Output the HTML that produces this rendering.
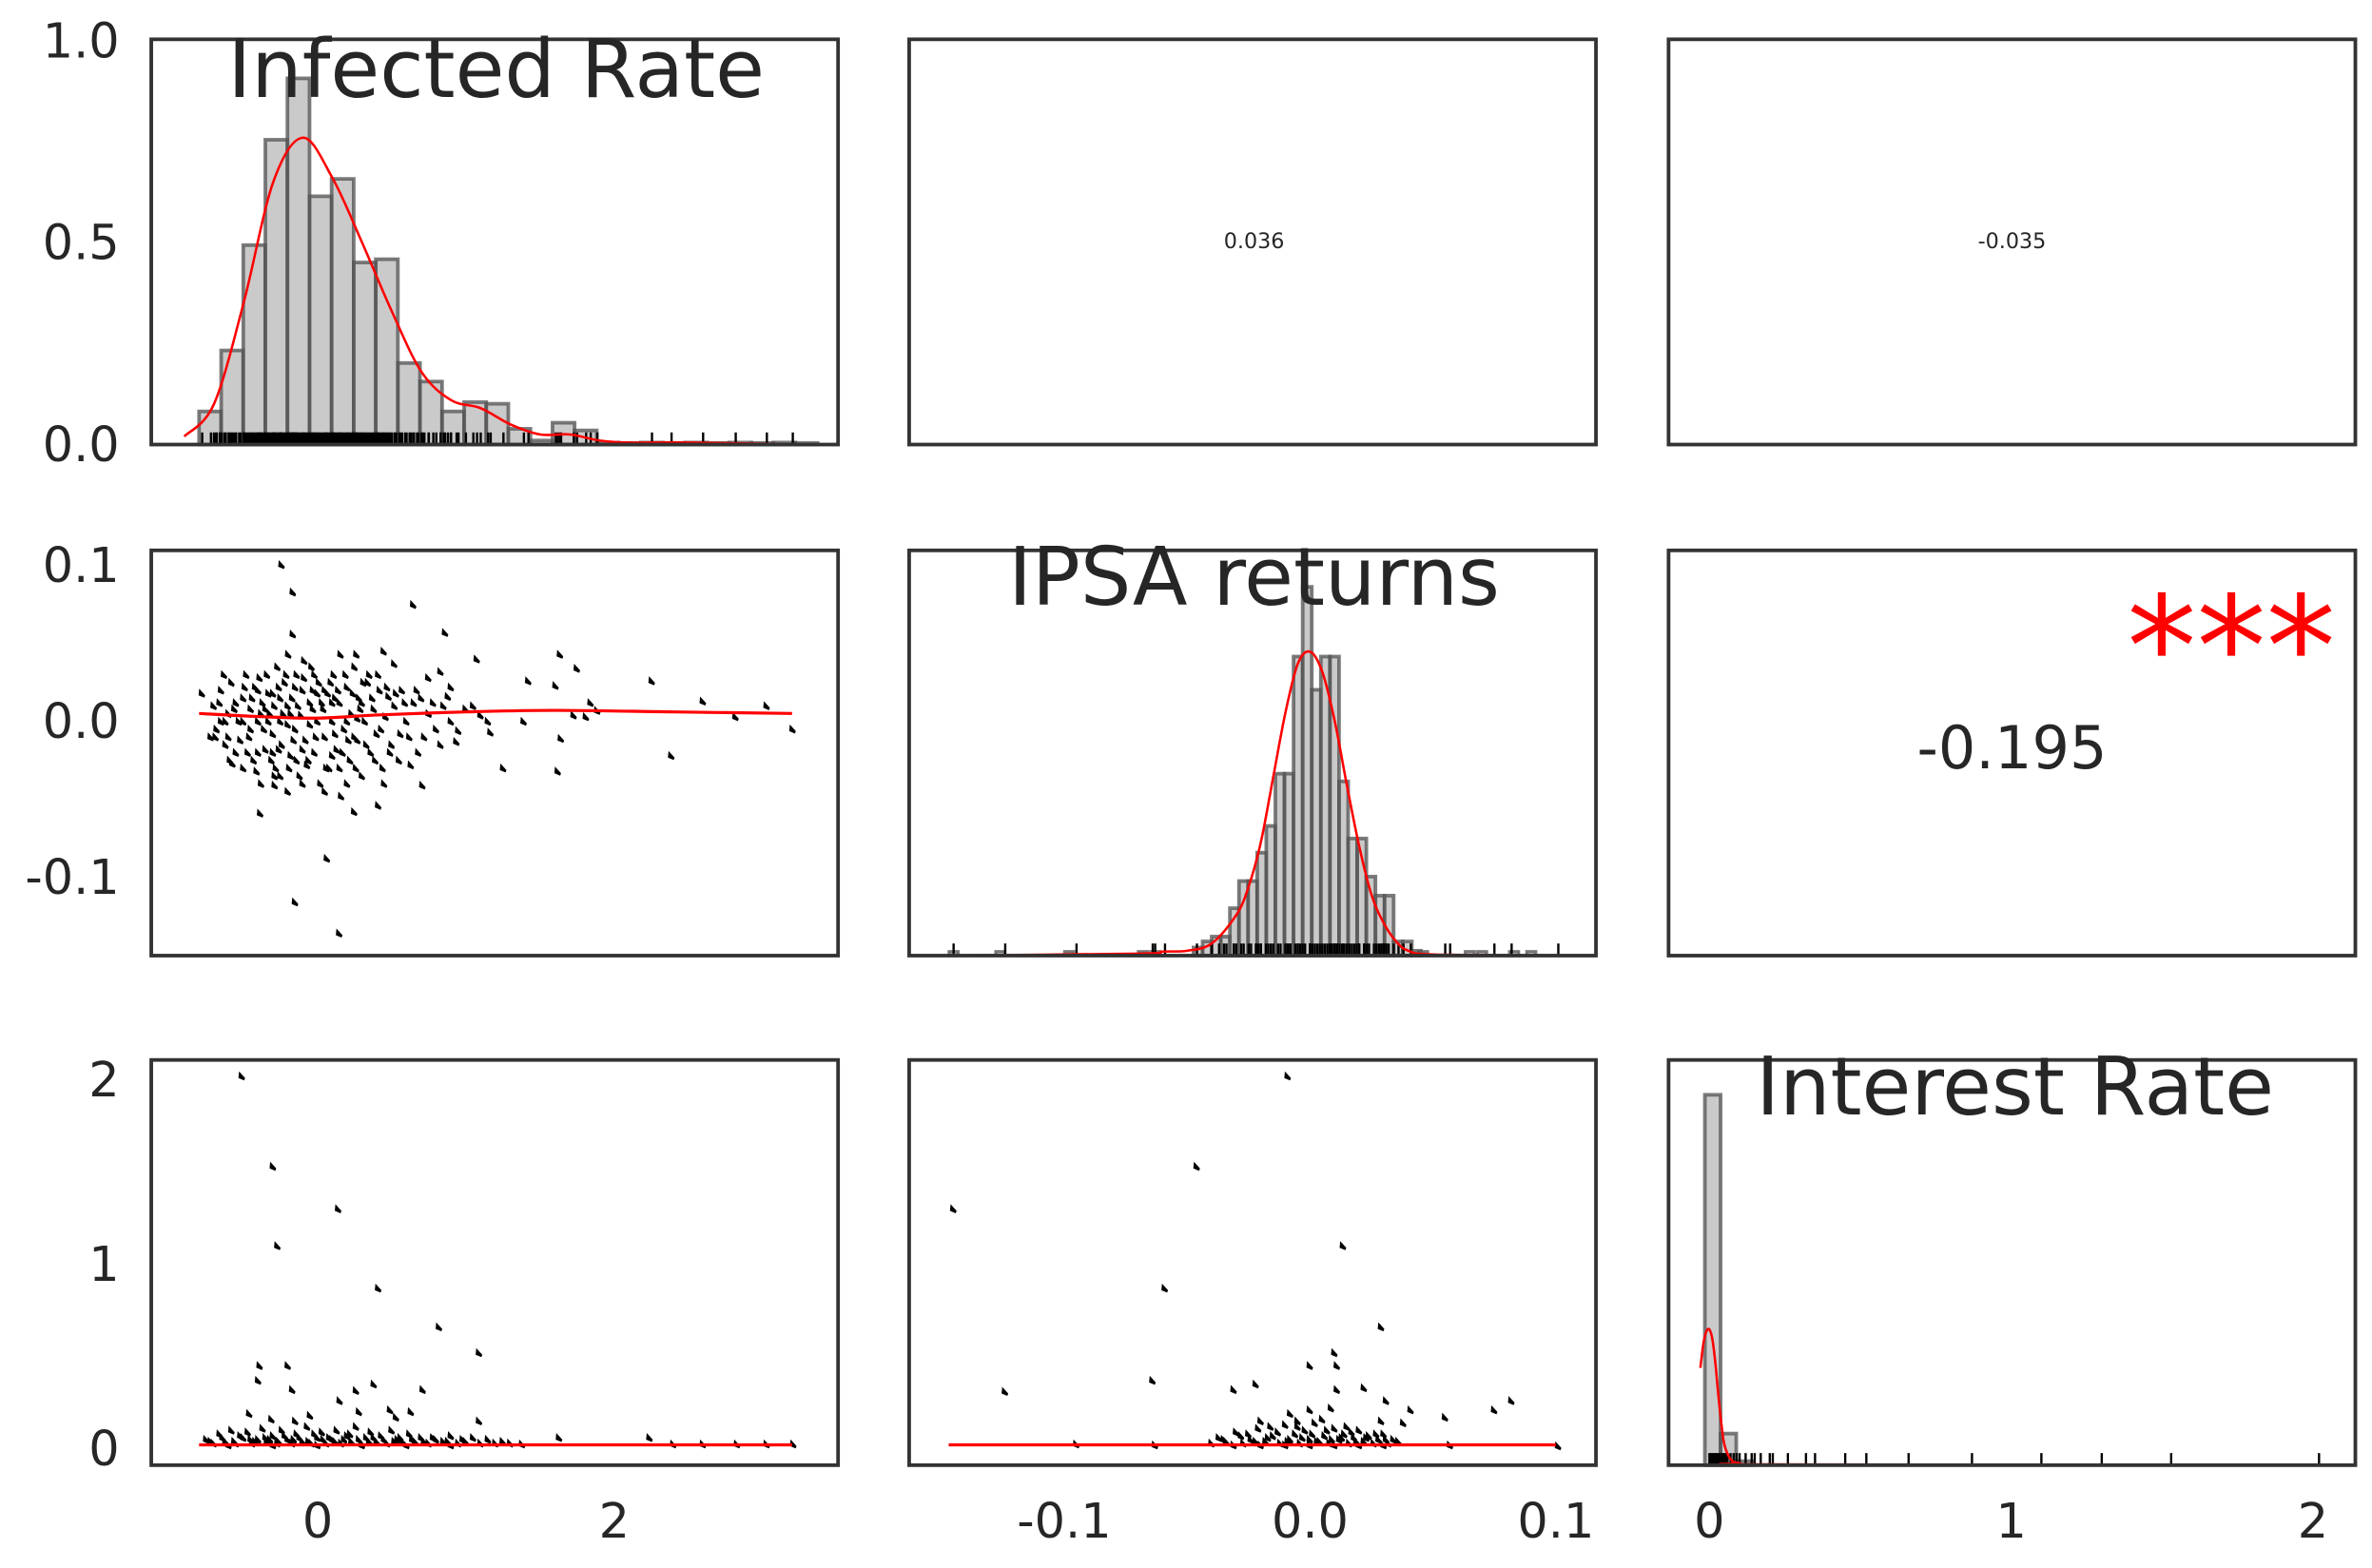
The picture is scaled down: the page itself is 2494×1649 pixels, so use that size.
<!DOCTYPE html>
<html><head><meta charset="utf-8">
<style>
html,body{margin:0;padding:0;background:#fff;}
svg{display:block;}
text{font-family:"DejaVu Sans","Liberation Sans",sans-serif;fill:#262626;}
</style></head>
<body>
<svg id="chart" width="2494" height="1649" viewBox="0 0 1568 1037" preserveAspectRatio="none" xmlns="http://www.w3.org/2000/svg">
<g id="layer"></g>
</svg>
<script>
// ---------- DATA ----------
const infHistStart = -0.80, infHistWidth = 0.149;
const infHist = [0.082,0.233,0.494,0.755,0.907,0.615,0.658,0.451,0.459,0.202,0.156,0.082,0.105,0.101,0.039,0.01,0.054,0.035,0.005,0.004,0.005,0.004,0.005,0.004,0.005,0.004,0.005,0.004];
const infKdeX = [-0.9,-0.7,-0.5,-0.3,-0.1,0.1,0.3,0.5,0.7,0.9,1.1,1.3,1.5,1.7,1.9,2.1,2.5,3.3];
const infKdeY = [0.02,0.1,0.35,0.65,0.76,0.66,0.5,0.33,0.18,0.11,0.09,0.05,0.025,0.025,0.01,0.005,0.005,0.0];

const ipsaHistStart = -0.0474, ipsaHistWidth = 0.0037;
const ipsaHist = [0.02,0.035,0.047,0.047,0.117,0.184,0.184,0.254,0.32,0.449,0.449,0.738,0.91,0.656,0.738,0.738,0.43,0.289,0.289,0.195,0.148,0.148,0.035,0.035,0.012];
const ipsaOutBars = [-0.145,-0.126,-0.098,-0.068,-0.063,0.046,0.065,0.07,0.083,0.09];
const ipsaKdeX = [-0.15,-0.07,-0.06,-0.05,-0.04,-0.03,-0.025,-0.02,-0.015,-0.01,-0.005,0,0.005,0.01,0.015,0.02,0.025,0.03,0.035,0.04,0.05,0.1];
const ipsaKdeY = [0,0.005,0.01,0.012,0.03,0.1,0.17,0.28,0.44,0.6,0.72,0.75,0.7,0.58,0.42,0.27,0.15,0.08,0.035,0.012,0.003,0];

const intHistStart = -0.015, intHistWidth = 0.052;
const intHist = [0.914,0.078,0.01];
const intKdeX = [-0.03,-0.02,-0.01,0.0,0.01,0.02,0.03,0.04,0.05,0.07,0.1,0.2,2.0];
const intKdeY = [0.24,0.3,0.33,0.335,0.31,0.25,0.17,0.1,0.05,0.015,0.005,0.002,0.0];

const scatInfX = [-0.242,-0.166,0.646,-0.166,0.861,1.075,1.636,1.75,1.422,1.606,2.255,2.60,3.03,2.82,3.205,2.387,1.642,1.621,1.253,0.708,-0.288,-0.288,-0.386,0.248,0.410,0.064,-0.151,0.147,-0.573,-0.687,-0.779,1.391,1.842,1.887,1.728,1.811,1.167,0.937,-0.197,-0.089,0.156,0.263,0.447,0.518,0.830,0.900,0.748,
-0.7,-0.68,-0.65,-0.62,-0.6,-0.58,-0.55,-0.53,-0.5,-0.5,-0.48,-0.46,-0.45,-0.43,-0.42,-0.4,-0.38,-0.37,-0.35,-0.34,-0.32,-0.3,-0.3,-0.28,-0.27,-0.25,-0.24,-0.22,-0.2,-0.2,-0.18,-0.17,-0.15,-0.14,-0.12,-0.11,-0.1,-0.08,-0.07,-0.05,-0.04,-0.02,0.0,0.01,0.02,0.04,0.05,0.07,0.08,0.1,0.11,0.13,0.15,0.16,0.18,0.2,0.22,0.23,0.25,0.27,0.28,0.3,0.32,0.34,0.36,0.38,0.4,0.42,0.44,0.46,0.48,0.5,0.52,0.55,0.57,0.6,0.62,0.65,0.68,0.7,0.75,0.8,0.85,0.9,0.95,1.0,1.05,1.1,1.15,
-0.45,-0.4,-0.35,-0.3,-0.25,-0.2,-0.15,-0.1,-0.05,0.0,0.05,0.1,0.15,0.2,0.25,0.3,-0.55,-0.6,-0.65,-0.4,-0.25,-0.1,0.05,0.2,0.35,0.45,-0.33,-0.18,-0.03,0.12,0.27,
-0.72,-0.66,-0.63,-0.59,-0.56,-0.52,-0.49,-0.47,-0.44,-0.41,-0.39,-0.36,-0.33,-0.31,-0.29,-0.26,-0.23,-0.21,-0.19,-0.16,-0.13,-0.09,-0.06,-0.03,-0.01,0.03,0.06,0.09,0.12,0.14,0.17,0.19,0.21,0.24,0.26,0.29,0.31,0.33,0.37,0.39,0.41,0.43,0.47,0.49,0.53,0.56,0.59,0.63,0.67,0.72,0.78,0.83,0.88,-0.62,-0.5,-0.38,-0.26,-0.14,-0.02,0.1];
const scatIpsaY = [0.1006,0.083,0.075,0.056,0.057,0.040,0.043,0.034,0.026,0.023,0.026,0.013,0.010,0.003,-0.005,-0.022,-0.011,-0.032,-0.030,-0.041,-0.035,-0.041,-0.059,-0.058,-0.054,-0.088,-0.116,-0.136,-0.027,-0.010,0.018,0.0,0.012,0.007,0.004,0.003,-0.007,-0.013,0.043,0.039,0.043,0.043,0.045,0.037,0.032,0.022,0.028,
0.01,-0.005,0.02,-0.015,0.005,0.025,-0.02,0.0,0.015,-0.03,0.03,-0.01,0.008,-0.025,0.022,0.0,-0.04,0.012,-0.018,0.03,0.005,-0.008,0.018,-0.03,0.035,0.0,-0.015,0.025,-0.045,0.01,-0.022,0.015,-0.005,0.03,-0.035,0.004,0.02,-0.012,-0.028,0.012,0.035,-0.02,0.0,0.025,-0.04,0.008,-0.01,0.018,-0.03,0.0,0.03,-0.018,0.012,-0.048,-0.005,0.022,-0.025,0.005,0.035,-0.012,0.015,-0.035,0.0,0.025,-0.02,0.008,-0.008,0.02,-0.03,0.003,0.016,-0.015,0.01,-0.025,0.02,0.0,-0.01,0.012,-0.02,0.015,0.005,-0.005,0.01,0.0,-0.006,0.008,0.01,0.004,0.0,
-0.005,0.02,0.008,-0.02,0.015,-0.002,0.022,-0.018,-0.002,0.018,0.02,-0.022,-0.03,0.0,-0.01,0.012,0.012,-0.01,0.0,-0.02,-0.035,-0.04,-0.045,-0.04,0.03,-0.04,0.0,0.005,0.008,0.015,0.002,
-0.01,0.012,0.03,-0.025,0.008,-0.012,0.022,-0.02,0.015,-0.032,0.028,-0.005,0.018,-0.025,0.01,-0.018,0.005,0.03,-0.03,-0.012,0.01,0.028,-0.025,0.02,-0.01,0.012,-0.03,0.025,-0.008,0.02,-0.02,0.03,-0.012,0.018,-0.03,0.008,0.025,-0.015,0.015,-0.025,0.03,-0.005,0.022,-0.02,0.018,-0.008,0.012,-0.028,0.02,-0.01,0.012,-0.015,0.016,0.0,0.0,0.005,0.022,-0.025,0.03,0.012];
const lowessIX = [-0.8,-0.4,0,0.4,1.0,1.6,2.4,3.2];
const lowessIY = [0.005,0.003,0.002,0.004,0.006,0.007,0.006,0.005];

const scatInf2X = [-0.51,-0.30,0.14,-0.27,0.41,0.82,1.09,-0.39,-0.20,-0.40,-0.17,0.38,0.26,0.71,0.15,-0.46,-0.31,-0.15,-0.05,0.49,0.63,1.09,0.53,0.28,1.38,1.63,2.24,2.40,2.60,2.83,3.03,3.21,
-0.75,-0.7,-0.66,-0.62,-0.58,-0.55,-0.5,-0.47,-0.44,-0.4,-0.37,-0.34,-0.3,-0.27,-0.24,-0.2,-0.17,-0.14,-0.1,-0.07,-0.04,0.0,0.03,0.06,0.1,0.13,0.16,0.2,0.23,0.26,0.3,0.33,0.36,0.4,0.43,0.47,0.5,0.54,0.58,0.62,0.66,0.7,0.75,0.8,0.85,0.9,0.95,1.0,1.05,1.1,1.15,1.2,1.25,1.3,-0.6,-0.3,0.0,0.3,0.6,0.9,
-0.72,-0.64,-0.56,-0.52,-0.45,-0.42,-0.35,-0.32,-0.26,-0.22,-0.16,-0.12,-0.06,-0.02,0.04,0.08,0.12,0.18,0.22,0.28,0.35,0.38,0.45,0.52,0.56,0.64,0.72,0.78,0.88,0.98];
const scatIntY = [2.02,1.53,1.30,1.10,0.87,0.66,0.52,0.45,0.45,0.37,0.32,0.35,0.315,0.32,0.26,0.19,0.16,0.15,0.18,0.21,0.20,0.15,0.17,0.2,0.025,0.06,0.06,0.025,0.025,0.025,0.025,0.025,
0.05,0.03,0.08,0.04,0.1,0.03,0.06,0.09,0.03,0.05,0.11,0.04,0.07,0.03,0.1,0.05,0.03,0.08,0.04,0.12,0.03,0.06,0.09,0.03,0.05,0.1,0.03,0.07,0.04,0.12,0.03,0.06,0.09,0.04,0.07,0.03,0.1,0.05,0.03,0.08,0.04,0.06,0.03,0.05,0.04,0.07,0.03,0.04,0.06,0.03,0.05,0.03,0.04,0.03,0.02,0.02,0.02,0.02,0.02,0.02,
0.04,0.06,0.04,0.07,0.05,0.04,0.06,0.05,0.04,0.07,0.05,0.06,0.04,0.08,0.05,0.06,0.04,0.05,0.08,0.05,0.04,0.06,0.05,0.04,0.06,0.05,0.04,0.06,0.04,0.05];
const regIntX = [-0.8,3.2];
const regIntY = [0.02,0.02];

const scatIpsa2X = [-0.009,-0.046,-0.145,0.0135,-0.059,0.029,0.010,0.0,0.011,-0.064,-0.124,-0.031,-0.022,0.011,0.022,0.031,0.082,0.075,0.041,0.055,0.0,0.0086,-0.008,-0.02,0.029,0.038,-0.095,-0.063,0.057,0.101,
-0.04,-0.037,-0.034,-0.03,-0.027,-0.024,-0.021,-0.018,-0.015,-0.012,-0.01,-0.008,-0.006,-0.004,-0.002,0.0,0.002,0.004,0.006,0.008,0.01,0.012,0.014,0.016,0.018,0.02,0.022,0.024,0.026,0.028,0.03,0.032,0.034,0.036,-0.031,-0.02,-0.01,0.0,0.01,0.02,0.03,-0.016,0.005,-0.005,
-0.035,-0.028,-0.022,-0.017,-0.013,-0.009,-0.003,0.001,0.003,0.007,0.009,0.013,0.017,0.019,0.023,0.027,0.031,-0.025,-0.005,0.015];
const scatInt2Y = [2.02,1.53,1.30,1.10,0.87,0.66,0.52,0.45,0.45,0.37,0.31,0.32,0.35,0.32,0.33,0.26,0.26,0.21,0.21,0.17,0.21,0.22,0.19,0.15,0.15,0.14,0.025,0.02,0.02,0.015,
0.03,0.06,0.04,0.09,0.03,0.05,0.11,0.04,0.07,0.03,0.13,0.05,0.08,0.03,0.1,0.05,0.14,0.04,0.07,0.03,0.11,0.05,0.08,0.03,0.06,0.1,0.04,0.07,0.03,0.05,0.08,0.03,0.05,0.04,0.02,0.02,0.02,0.02,0.02,0.02,0.02,0.12,0.16,0.15,
0.05,0.07,0.04,0.06,0.09,0.04,0.06,0.08,0.04,0.1,0.05,0.06,0.09,0.04,0.06,0.08,0.05,0.08,0.12,0.12];
const regIpsaX = [-0.147,0.1];
const regIpsaY = [0.02,0.02];

const intRug = [0.0,0.005,0.01,0.015,0.02,0.025,0.03,0.035,0.04,0.045,0.05,0.055,0.06,0.07,0.08,0.09,0.1,0.12,0.14,0.15,0.17,0.2,0.21,0.26,0.32,0.35,0.45,0.52,0.66,0.87,1.10,1.30,1.53,2.02];

const corrLabels = ["0.036","-0.035","-0.195"];
const titles = ["Infected Rate","IPSA returns","Interest Rate"];
const infTicks = [0,2], ipsaTicks = [-0.1,0.0,0.1], intTicks = [0,1,2];
const infTickLabels = ["0","2"], ipsaTickLabels = ["-0.1","0.0","0.1"], intTickLabels = ["0","1","2"];
const row1Ticks = [0,0.5,1.0], row1Labels = ["0.0","0.5","1.0"];
const row2Ticks = [-0.1,0.0,0.1], row2Labels = ["-0.1","0.0","0.1"];
const row3Ticks = [0,1,2], row3Labels = ["0","1","2"];

// ---------- AXES ----------
const colL = [100,601,1103], colR = [554,1055,1557];
const rowT = [26,364,701], rowB = [294,632,969];
const xInf = v => 210 + v*98;
const xIpsa = v => 866 + v*1625;
const xInt = v => 1130 + v*199.5;
const yR1 = v => 294 - v*267;
const yR2 = v => 477 - v*1030;
const yR3 = v => 958 - v*122;
const yD2 = v => 632 - v*268;
const yD3 = v => 969 - v*268;

const NS = "http://www.w3.org/2000/svg";
const layer = document.getElementById('layer');
function mk(tag, attrs, parent){
  const e = document.createElementNS(NS, tag);
  for (const k in attrs) e.setAttribute(k, attrs[k]);
  (parent||layer).appendChild(e);
  return e;
}
function txt(s, x, y, size, anchor, fill, parent){
  const t = mk('text', {x:x, y:y, 'font-size':size, 'text-anchor':anchor||'middle'}, parent);
  if (fill) t.setAttribute('style','fill:'+fill);
  t.textContent = s;
  return t;
}

function histo(g, start, w, vals, xf, yf, bottom, name){
  vals.forEach((v,i)=>{
    const x0 = xf(start+i*w), x1 = xf(start+(i+1)*w);
    const r = mk('rect',{x:x0,y:yf(v),width:Math.max(x1-x0,0.5),height:bottom-yf(v),fill:'rgba(150,150,150,0.5)',stroke:'rgba(80,80,80,0.75)','stroke-width':2.4}, g);
    
    
  });
}
function line(g, xs, ys, xf, yf, name, sw){
  const P = xs.map((x,i)=>[xf(x), yf(ys[i])]);
  let d = 'M'+P[0][0].toFixed(2)+' '+P[0][1].toFixed(2);
  for (let i=0;i<P.length-1;i++){
    const p0 = P[Math.max(i-1,0)], p1 = P[i], p2 = P[i+1], p3 = P[Math.min(i+2,P.length-1)];
    const c1 = [p1[0]+(p2[0]-p0[0])/6, p1[1]+(p2[1]-p0[1])/6];
    const c2 = [p2[0]-(p3[0]-p1[0])/6, p2[1]-(p3[1]-p1[1])/6];
    d += ` C${c1[0].toFixed(2)} ${c1[1].toFixed(2)} ${c2[0].toFixed(2)} ${c2[1].toFixed(2)} ${p2[0].toFixed(2)} ${p2[1].toFixed(2)}`;
  }
  const p = mk('path',{d:d,fill:'none',stroke:'#ff0000','stroke-width':sw||1.6}, g);
  
  
}
function rug(g, vals, xf, bottom, name){
  vals.forEach((v,i)=>{
    const l = mk('line',{x1:xf(v),x2:xf(v),y1:bottom-8,y2:bottom,stroke:'#000','stroke-width':1.5}, g);
    
    
  });
}
function scatter(g, xs, ys, xf, yf, name){
  xs.forEach((x,i)=>{
    const cx = xf(x), cy = yf(ys[i]);
    const e = mk('path',{d:`M${(cx-2).toFixed(2)} ${(cy-3).toFixed(2)} l4 4.4 l-0.6 1.6 l-3.8 -1.6 z`,fill:'#000'}, g);
    
    
  });
}
function frame(r,c){
  const f = mk('rect',{x:colL[c],y:rowT[r],width:colR[c]-colL[c],height:rowB[r]-rowT[r],fill:'none',stroke:'#333','stroke-width':2.4});
  
  
}

const panels = [];
for (let r=0;r<3;r++) for (let c=0;c<3;c++){
  const g = mk('g',{});
  
  
  panels.push(g);
}
let g = panels[0];
histo(g, infHistStart, infHistWidth, infHist, xInf, yR1, 294, 'infected-hist');
rug(g, scatInfX, xInf, 294, 'infected-rug');
line(g, infKdeX, infKdeY, xInf, yR1, 'infected-kde');
txt(corrLabels[0], 829, 164, 14, 'middle', null, panels[1]);
txt(corrLabels[1], 1330, 164, 14, 'middle', null, panels[2]);
g = panels[3];
scatter(g, scatInfX, scatIpsaY, xInf, yR2, 'infected-vs-ipsa');
line(g, lowessIX, lowessIY, xInf, yR2, 'infected-ipsa-fit', 2);
g = panels[4];
histo(g, ipsaHistStart, ipsaHistWidth, ipsaHist, xIpsa, yD2, 632, 'ipsa-hist');
ipsaOutBars.forEach((v,i)=>{
  const r = mk('rect',{x:xIpsa(v)-3,y:yD2(0.01),width:6,height:632-yD2(0.01),fill:'rgba(150,150,150,0.5)',stroke:'rgba(80,80,80,0.75)','stroke-width':2}, g);
  
  
});
rug(g, scatIpsa2X, xIpsa, 632, 'ipsa-rug');
line(g, ipsaKdeX, ipsaKdeY, xIpsa, yD2, 'ipsa-kde');
txt(corrLabels[2], 1330, 508, 39, 'middle', null, panels[5]);
txt('***', 1475, 460, 92, 'middle', '#ff0000', panels[5]);
g = panels[6];
scatter(g, scatInf2X, scatIntY, xInf, yR3, 'infected-vs-interest');
line(g, regIntX, regIntY, xInf, yR3, 'infected-interest-fit', 2);
g = panels[7];
scatter(g, scatIpsa2X, scatInt2Y, xIpsa, yR3, 'ipsa-vs-interest');
line(g, regIpsaX, regIpsaY, xIpsa, yR3, 'ipsa-interest-fit', 2);
g = panels[8];
histo(g, intHistStart, intHistWidth, intHist, xInt, yD3, 969, 'interest-hist');
rug(g, intRug, xInt, 969, 'interest-rug');
line(g, intKdeX, intKdeY, xInt, yD3, 'interest-kde');

for (let r=0;r<3;r++) for (let c=0;c<3;c++) frame(r,c);

[[328,64],[829,400],[1332,737]].forEach((p,i)=>{
  const t = txt(titles[i], p[0], p[1], 53, 'middle');
  
  
});

function yticks(vals, labels, yf, name){
  vals.forEach((v,i)=>{
    const t = txt(labels[i], 79, yf(v)+11, 32, 'end');
    
    
  });
}
yticks(row1Ticks, row1Labels, yR1, 'y-tick-label-row1');
yticks(row2Ticks, row2Labels, yR2, 'y-tick-label-row2');
yticks(row3Ticks, row3Labels, yR3, 'y-tick-label-row3');
function xticks(vals, labels, xf, name){
  vals.forEach((v,i)=>{
    const t = txt(labels[i], xf(v), 1017, 32, 'middle');
    
    
  });
}
xticks(infTicks, infTickLabels, xInf, 'x-tick-label-infected');
xticks(ipsaTicks, ipsaTickLabels, xIpsa, 'x-tick-label-ipsa');
xticks(intTicks, intTickLabels, xInt, 'x-tick-label-interest');
</script>
</body></html>
